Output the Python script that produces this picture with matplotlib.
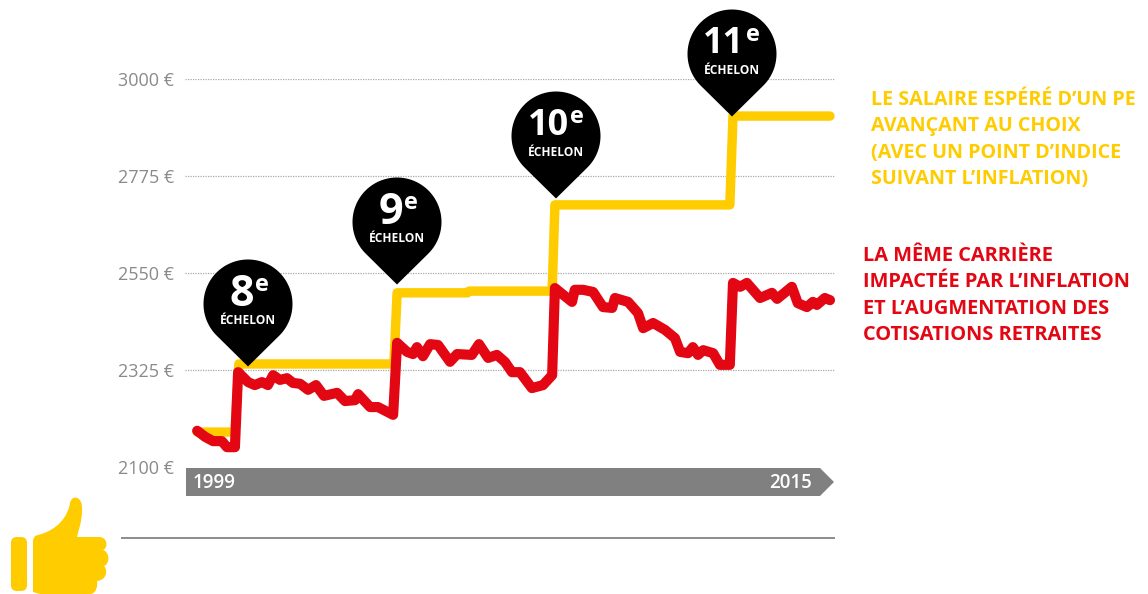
import numpy as np
import matplotlib
matplotlib.use("Agg")
import matplotlib.pyplot as plt
from matplotlib.patches import Polygon, PathPatch, FancyBboxPatch
from matplotlib.path import Path

W, H = 1148, 594
YELLOW = "#ffcc00"
RED = "#e30613"
GREY = "#808080"

plt.rcParams["font.family"] = ["Open Sans", "DejaVu Sans"]

y_ticks = [2100, 2325, 2550, 2775, 3000]
y_labels = ["2100 €", "2325 €", "2550 €", "2775 €", "3000 €"]
grid_values = [2325, 2550, 2775, 3000]

# salaire espere (paliers)
hope_years = [1999.08, 2000.03, 2000.13, 2004.03, 2004.11, 2005.88, 2005.92, 2008.01, 2008.08, 2012.48, 2012.56, 2015.0]
hope_values = [2181, 2181, 2339, 2339, 2504, 2504, 2508, 2508, 2708, 2708, 2914, 2914]

# meme carriere avec inflation
real_years = [1999.08, 1999.28, 1999.48, 1999.70, 1999.83, 2000.03, 2000.11, 2000.36, 2000.53, 2000.71,
              2000.86, 2000.99, 2001.16, 2001.34, 2001.49, 2001.67, 2001.87, 2002.07, 2002.27, 2002.60,
              2002.80, 2003.05, 2003.13, 2003.43, 2003.63, 2004.01, 2004.11, 2004.36, 2004.51, 2004.61,
              2004.76, 2004.94, 2005.14, 2005.44, 2005.62, 2005.99, 2006.17, 2006.40, 2006.62, 2006.82,
              2007.00, 2007.20, 2007.50, 2007.78, 2008.01, 2008.08, 2008.51, 2008.58, 2008.79, 2009.04,
              2009.29, 2009.52, 2009.59, 2009.92, 2010.17, 2010.30, 2010.55, 2010.85, 2011.10, 2011.23,
              2011.43, 2011.55, 2011.68, 2011.81, 2012.06, 2012.23, 2012.48, 2012.56, 2012.74, 2012.91,
              2013.24, 2013.54, 2013.67, 2014.04, 2014.19, 2014.42, 2014.57, 2014.67, 2014.87, 2015.0]
real_values = [2184, 2170, 2160, 2160, 2146, 2146, 2320, 2297, 2290, 2297,
               2290, 2313, 2302, 2306, 2295, 2293, 2279, 2290, 2265, 2272,
               2253, 2255, 2269, 2239, 2239, 2221, 2388, 2367, 2362, 2378,
               2357, 2385, 2383, 2344, 2362, 2360, 2385, 2353, 2360, 2344,
               2320, 2320, 2283, 2290, 2313, 2515, 2483, 2511, 2511, 2506,
               2471, 2469, 2492, 2483, 2457, 2422, 2434, 2418, 2399, 2367,
               2364, 2378, 2360, 2371, 2364, 2337, 2337, 2527, 2518, 2527,
               2492, 2504, 2490, 2518, 2480, 2471, 2483, 2476, 2492, 2487]

pin_numbers = ["8", "9", "10", "11"]
pin_centers = [(248, 304), (397, 222), (556, 136), (732, 54)]

fig = plt.figure(figsize=(W / 100, H / 100), dpi=100)

# axes du graphique, calees sur les pixels de la grille
ax = fig.add_axes([185 / W, 1 - 467 / H, 650 / W, 388 / H])
ax.set_xlim(1998.774, 2015.126)
ax.set_ylim(2100, 3000)
ax.patch.set_alpha(0)
for s in ax.spines.values():
    s.set_visible(False)
ax.set_xticks([])
ax.set_yticks(y_ticks)
ax.set_yticklabels(y_labels, fontsize=13, color="#8a8a8a", fontweight="medium")
ax.tick_params(axis="y", length=0, pad=8)
ax.hlines(grid_values, 1998.774, 2015.126, colors="#a8a8a8", linewidth=0.9, linestyles=(0, (1, 1)), zorder=1)
ax.plot(hope_years, hope_values, color=YELLOW, linewidth=6.8, solid_capstyle="round",
        solid_joinstyle="round", clip_on=False, zorder=3)
ax.plot(real_years, real_values, color=RED, linewidth=7.3, solid_capstyle="round",
        solid_joinstyle="round", clip_on=False, zorder=4)

# calque en pixels pour les decorations
deco = fig.add_axes([0, 0, 1, 1])
deco.set_xlim(0, W)
deco.set_ylim(H, 0)
deco.axis("off")
deco.patch.set_alpha(0)

# frise
deco.add_patch(Polygon([(186, 468), (820, 468), (834, 482), (820, 496), (186, 496)], fc=GREY, ec="none"))
deco.text(193, 483, "1999", color="white", fontsize=13.5, fontweight="semibold", va="center", ha="left")
deco.text(812, 483, "2015", color="white", fontsize=13.5, fontweight="semibold", va="center", ha="right")
deco.plot([122, 834], [538, 538], color="#8c8c8c", linewidth=1.4)

# epingles
R = 44.5
D = 62.5
for num, (cx, cy) in zip(pin_numbers, pin_centers):
    a = np.arccos(R / D)
    t = np.linspace(np.pi / 2 + a, np.pi / 2 - a + 2 * np.pi, 80)
    pts = np.column_stack([cx + R * np.cos(t), cy + R * np.sin(t)])
    pts = np.vstack([pts, [cx, cy + D]])
    deco.add_patch(Polygon(pts, fc="black", ec="none", zorder=5))
    two_digits = len(num) > 1
    deco.text(cx + (-8 if two_digits else -6), cy - 10, num, color="white", fontsize=26 if two_digits else 31,
              fontweight="bold", ha="center", va="center", zorder=6)
    deco.text(cx + (21 if two_digits else 14), cy - 19, "e", color="white", fontsize=17, fontweight="bold",
              ha="center", va="center", zorder=6)
    deco.text(cx, cy + 17, "ÉCHELON", color="white", fontsize=8.6, fontweight="bold",
              ha="center", va="center", zorder=6)

# textes de droite
yellow_lines = ["LE SALAIRE ESPÉRÉ D’UN PE", "AVANÇANT AU CHOIX", "(AVEC UN POINT D’INDICE", "SUIVANT L’INFLATION)"]
red_lines = ["LA MÊME CARRIÈRE", "IMPACTÉE PAR L’INFLATION", "ET L’AUGMENTATION DES", "COTISATIONS RETRAITES"]
for i, line in enumerate(yellow_lines):
    deco.text(871, 100 + i * 26.3, line, color=YELLOW, fontsize=14.2, fontweight="bold", va="center", ha="left")
for i, line in enumerate(red_lines):
    deco.text(863, 256 + i * 26.3, line, color=RED, fontsize=14.4, fontweight="bold", va="center", ha="left")

# pouce
deco.add_patch(FancyBboxPatch((11, 537), 16, 54, boxstyle="round,pad=0,rounding_size=6", fc=YELLOW, ec="none"))
verts = [(33, 544), (33, 540), (35, 536), (38, 535),
         (58, 530), (68, 516), (70, 503),
         (72, 494), (83, 496), (82, 510),
         (82, 522), (78, 532), (77, 537),
         (100, 537),
         (108, 538), (108, 548), (103, 550),
         (110, 552), (110, 564), (104, 566),
         (108, 570), (107, 580), (97, 581),
         (98, 586), (96, 594), (90, 594),
         (40, 594), (33, 592), (33, 586), (33, 544)]
codes = [Path.MOVETO, Path.LINETO, Path.LINETO, Path.LINETO,
         Path.CURVE4, Path.CURVE4, Path.CURVE4,
         Path.CURVE4, Path.CURVE4, Path.CURVE4,
         Path.CURVE4, Path.CURVE4, Path.CURVE4,
         Path.LINETO,
         Path.CURVE4, Path.CURVE4, Path.CURVE4,
         Path.CURVE4, Path.CURVE4, Path.CURVE4,
         Path.CURVE4, Path.CURVE4, Path.CURVE4,
         Path.CURVE4, Path.CURVE4, Path.CURVE4,
         Path.LINETO, Path.LINETO, Path.LINETO, Path.LINETO]
deco.add_patch(PathPatch(Path(verts, codes), fc=YELLOW, ec="none"))

fig.savefig("out.png", dpi=100)
